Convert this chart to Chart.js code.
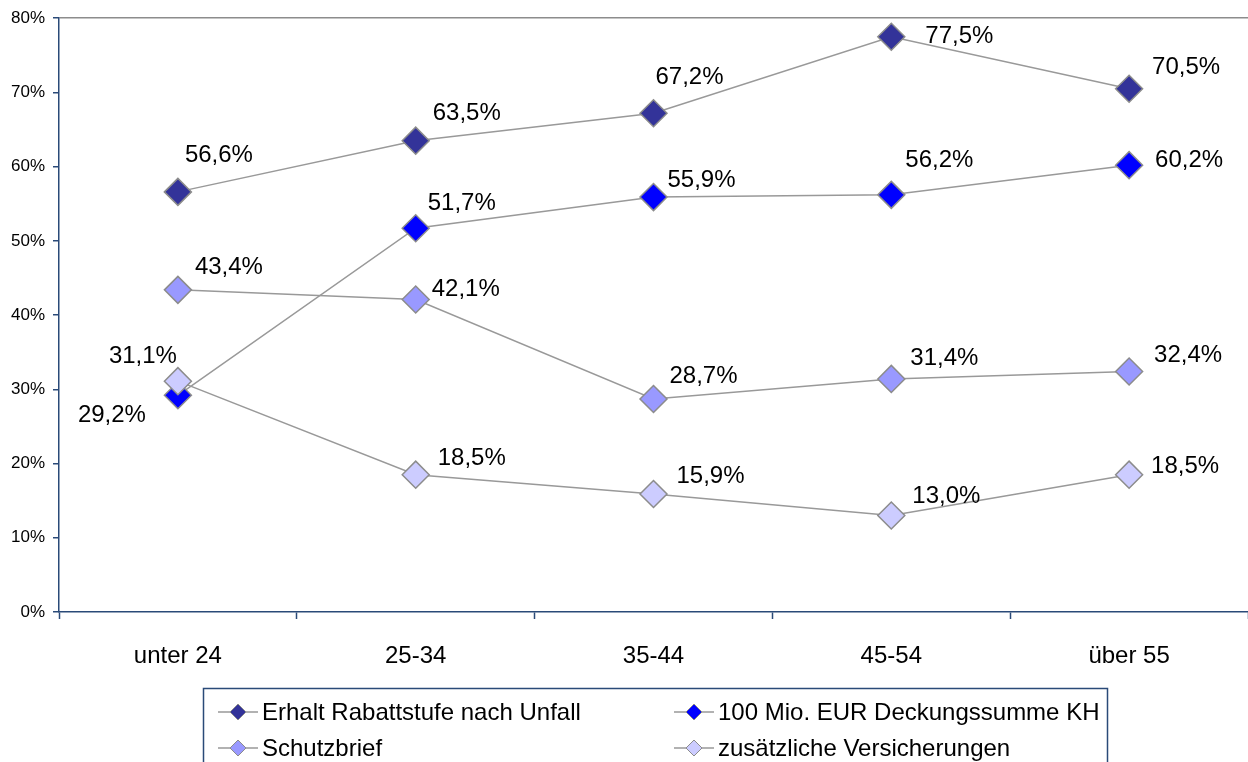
<!DOCTYPE html>
<html>
<head>
<meta charset="utf-8">
<script src="https://cdn.jsdelivr.net/npm/chart.js@4"></script>
<style>
  html, body { margin: 0; padding: 0; background: #fff; overflow: hidden; }
  canvas { display: block; }
</style>
</head>
<body>
<canvas id="chart" width="1248" height="762"></canvas>
<script>
// Altersgruppen
const categories = ['unter 24', '25-34', '35-44', '45-54', 'über 55'];

// Werte in Prozent
const seriesNames = [
  'Erhalt Rabattstufe nach Unfall',
  '100 Mio. EUR Deckungssumme KH',
  'Schutzbrief',
  'zusätzliche Versicherungen'
];
const rabattstufe = [56.6, 63.5, 67.2, 77.5, 70.5];
const deckungssumme = [29.2, 51.7, 55.9, 56.2, 60.2];
const schutzbrief = [43.4, 42.1, 28.7, 31.4, 32.4];
const zusaetzlich = [31.1, 18.5, 15.9, 13.0, 18.5];

const yTicks = [0, 10, 20, 30, 40, 50, 60, 70, 80];

const colors = ['#333399', '#0000ff', '#9999ff', '#ccccff'];

// Verschiebung der Beschriftungen (dx zur linken Textkante, dy zur Textmitte)
const labelShift = [
  [[7, -37], [17, -27], [2, -36], [34, 0], [23, -21]],
  [[-100, 20], [12, -25], [14, -17], [14, -34], [26, -5]],
  [[17, -22], [16, -10], [16, -23], [19, -21], [25, -16]],
  [[-69, -25], [22, -16], [23, -18], [21, -19], [22, -8]]
];

const fontFamily = 'Arial, "Liberation Sans", sans-serif';
const axisColor = '#2a4a78';

function fmt(v) {
  return v.toFixed(1).replace('.', ',') + '%';
}

const allSeries = [rabattstufe, deckungssumme, schutzbrief, zusaetzlich];

const datasets = allSeries.map(function (vals, i) {
  return {
    label: seriesNames[i],
    data: vals,
    borderColor: '#999999',
    borderWidth: 1.5,
    pointStyle: 'rectRot',
    pointRadius: 13.5,
    pointHoverRadius: 13.5,
    pointBackgroundColor: colors[i],
    pointBorderColor: '#8c8c8c',
    pointBorderWidth: 1.5,
    tension: 0,
    fill: false,
    clip: false,
    order: 3 - i
  };
});

// Datenbeschriftungen
const valueLabels = {
  id: 'valueLabels',
  afterDatasetsDraw(chart) {
    const ctx = chart.ctx;
    ctx.save();
    ctx.font = '24px ' + fontFamily;
    ctx.fillStyle = '#000';
    ctx.textAlign = 'left';
    ctx.textBaseline = 'middle';
    chart.data.datasets.forEach(function (ds, i) {
      const meta = chart.getDatasetMeta(i);
      meta.data.forEach(function (pt, j) {
        const s = labelShift[i][j];
        ctx.fillText(fmt(ds.data[j]), pt.x + s[0], pt.y + s[1]);
      });
    });
    ctx.restore();
  }
};

// Legende im Kasten
const boxLegend = {
  id: 'boxLegend',
  afterDraw(chart) {
    const ctx = chart.ctx;
    ctx.save();
    ctx.strokeStyle = axisColor;
    ctx.lineWidth = 1.5;
    ctx.strokeRect(203.5, 688.5, 904, 120);
    ctx.font = '24px ' + fontFamily;
    ctx.textBaseline = 'middle';
    ctx.textAlign = 'left';
    chart.data.datasets.forEach(function (ds, i) {
      const x = i % 2 === 0 ? 218 : 674;
      const y = i < 2 ? 712 : 748;
      ctx.strokeStyle = '#999999';
      ctx.lineWidth = 1.5;
      ctx.beginPath();
      ctx.moveTo(x, y);
      ctx.lineTo(x + 40, y);
      ctx.stroke();
      ctx.beginPath();
      ctx.moveTo(x + 20, y - 8);
      ctx.lineTo(x + 28, y);
      ctx.lineTo(x + 20, y + 8);
      ctx.lineTo(x + 12, y);
      ctx.closePath();
      ctx.fillStyle = ds.pointBackgroundColor;
      ctx.fill();
      ctx.strokeStyle = '#8c8c8c';
      ctx.lineWidth = 1;
      ctx.stroke();
      ctx.fillStyle = '#000';
      ctx.fillText(ds.label, x + 44, y + 1);
    });
    ctx.restore();
  }
};

const config = {
  type: 'line',
  data: { labels: categories, datasets: datasets },
  options: {
    responsive: false,
    animation: false,
    layout: { autoPadding: false, padding: { top: 17, right: 0, bottom: 0, left: 0 } },
    plugins: {
      legend: { display: false },
      tooltip: { enabled: false }
    },
    scales: {
      x: {
        offset: true,
        afterFit(scale) { scale.height = 150; },
        grid: {
          offset: true,
          drawOnChartArea: false,
          drawTicks: true,
          tickLength: 7,
          tickColor: axisColor,
          tickWidth: 1.5
        },
        border: { color: axisColor, width: 1.5 },
        ticks: {
          color: '#000',
          padding: 23,
          font: { family: fontFamily, size: 24 }
        }
      },
      y: {
        min: 0,
        max: 80,
        afterFit(scale) { scale.width = 59; },
        afterBuildTicks(scale) {
          scale.ticks = yTicks.map(function (v) { return { value: v }; });
        },
        grid: {
          drawOnChartArea: true,
          color: function (c) { return c.tick && c.tick.value === 80 ? '#8c8c8c' : 'rgba(0,0,0,0)'; },
          lineWidth: 1.5,
          drawTicks: true,
          tickLength: 6,
          tickColor: axisColor,
          tickWidth: 1.5
        },
        border: { color: axisColor, width: 1.5 },
        ticks: {
          color: '#000',
          padding: 8,
          font: { family: fontFamily, size: 17 },
          callback: function (v) { return v + '%'; }
        }
      }
    }
  },
  plugins: [valueLabels, boxLegend]
};

const ctx = document.getElementById('chart').getContext('2d');
new Chart(ctx, config);
</script>
</body>
</html>
